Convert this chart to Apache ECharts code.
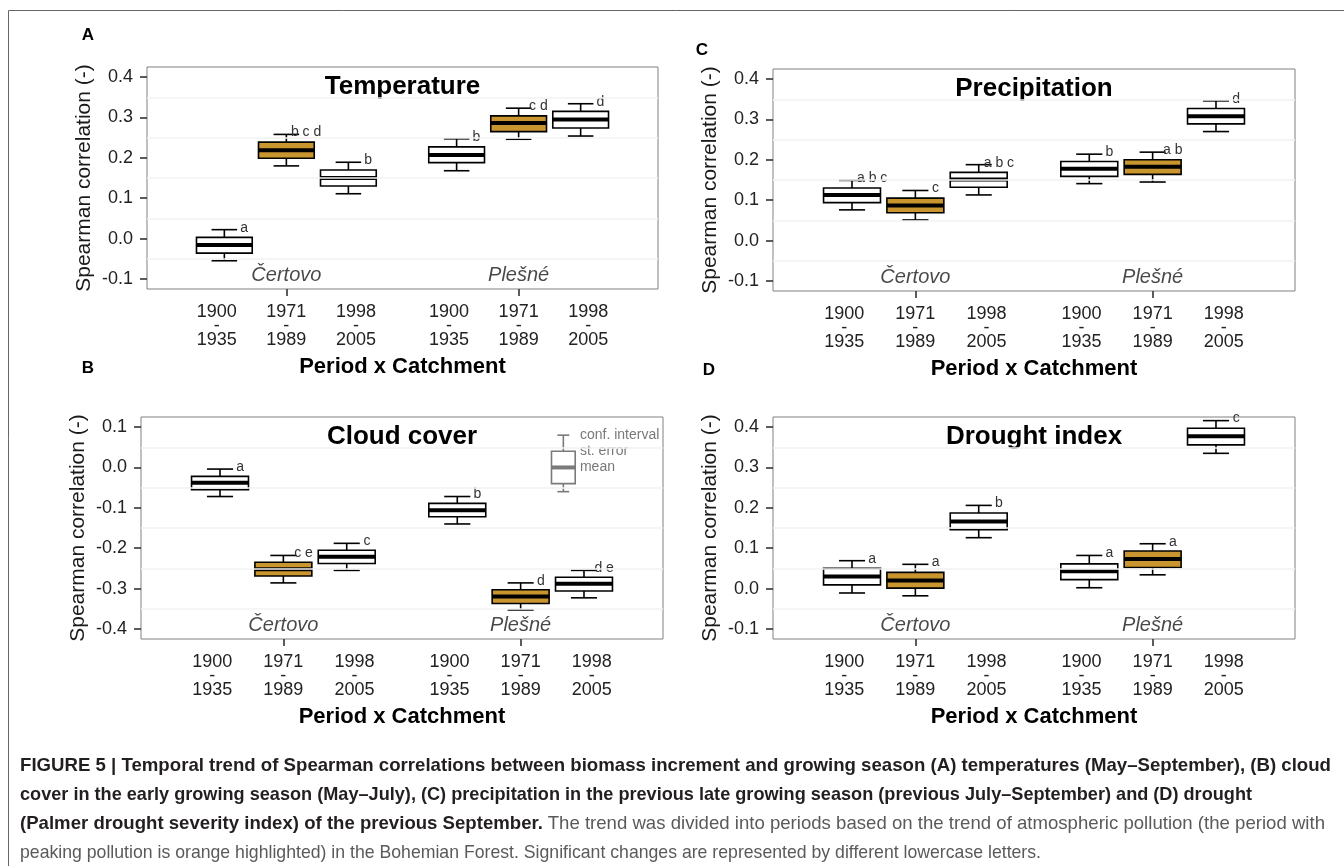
<!DOCTYPE html>
<html lang="en">
<head>
<meta charset="UTF-8">
<title>Figure 5 - Spearman correlations by period and catchment</title>
<script src="https://cdn.jsdelivr.net/npm/echarts@6.0.0/dist/echarts.min.js"></script>
<style>
  html, body { margin: 0; padding: 0; background: #fff; }
  #chart { position: absolute; left: 0; top: 0; width: 1344px; height: 866px; }
  #caption { position: absolute; left: 20px; top: 750px; font-family: 'Liberation Sans', Arial, sans-serif; font-size: 19px; }
  #caption .ln { white-space: nowrap; width: max-content; height: 29px; line-height: 29px; transform-origin: 0 50%; }
  #caption b { color: #231f20; }
  #caption span { color: #5a5a5a; }
</style>
</head>
<body>
<div id="chart"></div>
<div id="caption">
  <div class="ln"><b>FIGURE 5 | Temporal trend of Spearman correlations between biomass increment and growing season (A) temperatures (May–September), (B) cloud</b></div>
  <div class="ln"><b>cover in the early growing season (May–July), (C) precipitation in the previous late growing season (previous July–September) and (D) drought</b></div>
  <div class="ln"><b>(Palmer drought severity index) of the previous September.</b><span> The trend was divided into periods based on the trend of atmospheric pollution (the period with</span></div>
  <div class="ln"><span>peaking pollution is orange highlighted) in the Bohemian Forest. Significant changes are represented by different lowercase letters.</span></div>
</div>
<script>
// categories
const catchments = ['Čertovo', 'Plešné'];
const periods = ['1900\n-\n1935', '1971\n-\n1989', '1998\n-\n2005'];

// rows: [catchment, period, conf. low, se low, mean, se high, conf. high, letters]
const temperature = [
  [0, 0, -0.055, -0.036, -0.016, 0.003, 0.022, 'a'],
  [0, 1, 0.180, 0.199, 0.219, 0.239, 0.258, 'b c d'],
  [0, 2, 0.111, 0.130, 0.150, 0.170, 0.189, 'b'],
  [1, 0, 0.168, 0.188, 0.207, 0.227, 0.247, 'b'],
  [1, 1, 0.246, 0.265, 0.286, 0.304, 0.323, 'c d'],
  [1, 2, 0.254, 0.274, 0.295, 0.315, 0.334, 'd']
];
const cloudCover = [
  [0, 0, -0.072, -0.055, -0.038, -0.022, -0.004, 'a'],
  [0, 1, -0.286, -0.269, -0.252, -0.235, -0.218, 'c e'],
  [0, 2, -0.255, -0.238, -0.221, -0.205, -0.188, 'c'],
  [1, 0, -0.140, -0.122, -0.106, -0.089, -0.072, 'b'],
  [1, 1, -0.353, -0.337, -0.320, -0.303, -0.286, 'd'],
  [1, 2, -0.323, -0.306, -0.288, -0.272, -0.255, 'd e']
];
const precipitation = [
  [0, 0, 0.076, 0.094, 0.113, 0.130, 0.149, 'a b c'],
  [0, 1, 0.051, 0.069, 0.087, 0.105, 0.124, 'c'],
  [0, 2, 0.113, 0.132, 0.151, 0.169, 0.188, 'a b c'],
  [1, 0, 0.141, 0.159, 0.178, 0.196, 0.214, 'b'],
  [1, 1, 0.145, 0.164, 0.183, 0.200, 0.219, 'a b'],
  [1, 2, 0.270, 0.289, 0.308, 0.327, 0.346, 'd']
];
const drought = [
  [0, 0, -0.011, 0.009, 0.030, 0.050, 0.069, 'a'],
  [0, 1, -0.018, 0.001, 0.020, 0.040, 0.060, 'a'],
  [0, 2, 0.126, 0.146, 0.166, 0.187, 0.206, 'b'],
  [1, 0, 0.002, 0.022, 0.043, 0.061, 0.082, 'a'],
  [1, 1, 0.034, 0.052, 0.073, 0.093, 0.111, 'a'],
  [1, 2, 0.335, 0.356, 0.377, 0.397, 0.416, 'c']
];

// key box drawn inside panel B: [x, conf. low, se low, mean, se high, conf. high]
const keyBox = [2.18, -0.06, -0.04, 0.0, 0.04, 0.08];
const keyText = ['conf. interval', 'st. error', 'mean'];
const keyLevels = [0.08, 0.04, 0.0];

const ticksUp = [-0.1, 0, 0.1, 0.2, 0.3, 0.4];
const ticksDown = [-0.4, -0.3, -0.2, -0.1, 0, 0.1];
const minorUp = [-0.05, 0.05, 0.15, 0.25, 0.35];
const minorDown = [-0.35, -0.25, -0.15, -0.05, 0.05];

const FONT = "'Liberation Sans', Arial, sans-serif";
const ORANGE = '#c9952f';
const DODGE = 0.267, LABEL_DODGE = 0.3;
const BOX_HALF = 0.12, CAP_HALF = 0.055, LETTER_DX = 0.085;

const labelPos = [];
catchments.forEach((c, ci) => periods.forEach((p, pi) => labelPos.push(ci + 1 + (pi - 1) * LABEL_DODGE)));

const panels = [
  { tag: 'A', title: 'Temperature', rows: temperature, box: [147, 67, 511, 222], ext: [-0.125, 0.425], ticks: ticksUp, minor: minorUp, tagXY: [88, 35] },
  { tag: 'B', title: 'Cloud cover', rows: cloudCover, box: [141, 417, 522, 222], ext: [-0.425, 0.125], ticks: ticksDown, minor: minorDown, tagXY: [88, 368] },
  { tag: 'C', title: 'Precipitation', rows: precipitation, box: [773, 69, 522, 222], ext: [-0.125, 0.425], ticks: ticksUp, minor: minorUp, tagXY: [702, 50] },
  { tag: 'D', title: 'Drought index', rows: drought, box: [773, 417, 522, 222], ext: [-0.125, 0.425], ticks: ticksUp, minor: minorUp, tagXY: [709, 370] }
];

function boxRenderer(rows, color, boxHalf, capHalf, fillFor) {
  return function (params, api) {
    const x = api.value(0);
    const p0 = api.coord([x - boxHalf, api.value(4)]);
    const p1 = api.coord([x + boxHalf, api.value(2)]);
    const xc = api.coord([x, 0])[0];
    const yLo = api.coord([x, api.value(1)])[1];
    const yHi = api.coord([x, api.value(5)])[1];
    const yMean = api.coord([x, api.value(3)])[1];
    const cl = api.coord([x - capHalf, 0])[0], cr = api.coord([x + capHalf, 0])[0];
    const thin = { stroke: color, lineWidth: 1.6 };
    const kids = [
      { type: 'line', shape: { x1: xc, y1: yHi, x2: xc, y2: yLo }, style: thin },
      { type: 'line', shape: { x1: cl, y1: yHi, x2: cr, y2: yHi }, style: thin },
      { type: 'line', shape: { x1: cl, y1: yLo, x2: cr, y2: yLo }, style: thin },
      { type: 'rect', shape: { x: p0[0], y: p0[1], width: p1[0] - p0[0], height: p1[1] - p0[1] },
        style: { fill: fillFor(params.dataIndex), stroke: color, lineWidth: 1.6 } },
      { type: 'line', shape: { x1: p0[0], y1: yMean, x2: p1[0], y2: yMean }, style: { stroke: color, lineWidth: 4 } }
    ];
    if (rows) {
      kids.push({ type: 'text', x: api.coord([x + LETTER_DX, 0])[0], y: yHi - 2,
        style: { text: rows[params.dataIndex][7], align: 'center', verticalAlign: 'middle',
          fontSize: 14, fontFamily: FONT, fill: '#333' } });
    }
    return { type: 'group', children: kids };
  };
}

const option = {
  animation: false,
  grid: [], xAxis: [], yAxis: [], series: [],
  graphic: [
    { type: 'line', shape: { x1: 8.5, y1: 10.5, x2: 1344, y2: 10.5 }, style: { stroke: '#666', lineWidth: 1 } },
    { type: 'line', shape: { x1: 8.5, y1: 10.5, x2: 8.5, y2: 866 }, style: { stroke: '#666', lineWidth: 1 } }
  ]
};

panels.forEach((pn, i) => {
  const [left, top, width, height] = pn.box;
  option.grid.push({ left, top, width, height, show: true, borderColor: '#808080', borderWidth: 1, backgroundColor: '#fff' });
  option.xAxis.push({
    gridIndex: i, type: 'value', min: 0.4, max: 2.6,
    name: 'Period x Catchment', nameLocation: 'middle', nameGap: 67,
    nameTextStyle: { fontFamily: FONT, fontSize: 22, fontWeight: 'bold', color: '#000' },
    axisLine: { show: false, onZero: false },
    axisTick: { show: true, length: 7, customValues: [1, 2], lineStyle: { color: '#333', width: 1.6 } },
    axisLabel: {
      customValues: labelPos, margin: 16, fontFamily: FONT, fontSize: 18, color: '#222', lineHeight: 14,
      formatter: v => {
        let k = 0;
        labelPos.forEach((p, j) => { if (Math.abs(p - v) < Math.abs(labelPos[k] - v)) k = j; });
        return periods[k % 3];
      }
    },
    splitLine: { show: false }
  });
  option.yAxis.push({
    gridIndex: i, type: 'value', min: pn.ext[0], max: pn.ext[1],
    name: 'Spearman correlation (-)', nameLocation: 'middle', nameGap: 52,
    nameTextStyle: { fontFamily: FONT, fontSize: 21, color: '#1a1a1a' },
    axisLine: { show: false, onZero: false },
    axisTick: { show: true, length: 7, customValues: pn.ticks, lineStyle: { color: '#333', width: 1.6 } },
    axisLabel: { customValues: pn.ticks, margin: 14, fontFamily: FONT, fontSize: 18, color: '#222', formatter: v => v.toFixed(1) },
    splitLine: { show: false }
  });
  // faint minor grid lines
  option.series.push({
    type: 'line', xAxisIndex: i, yAxisIndex: i, data: [], silent: true,
    markLine: { silent: true, symbol: ['none', 'none'], label: { show: false },
      lineStyle: { color: '#f2f2f2', width: 1.5, type: 'solid' },
      data: pn.minor.map(v => ({ yAxis: v })) }
  });
  // catchment names
  option.series.push({
    type: 'scatter', xAxisIndex: i, yAxisIndex: i, symbolSize: 0, silent: true,
    data: catchments.map((c, ci) => ({ value: [ci + 1, pn.ext[0] + 0.033], name: c })),
    label: { show: true, position: 'inside', formatter: '{b}', fontFamily: FONT, fontSize: 20, fontStyle: 'italic', color: '#1a1a1a' }
  });
  // boxes
  option.series.push({
    type: 'custom', xAxisIndex: i, yAxisIndex: i, silent: true,
    renderItem: boxRenderer(pn.rows, '#000', BOX_HALF, CAP_HALF, idx => pn.rows[idx][1] === 1 ? ORANGE : '#fff'),
    encode: { x: 0, y: [1, 2, 3, 4, 5] },
    data: pn.rows.map(r => [r[0] + 1 + (r[1] - 1) * DODGE, r[2], r[3], r[4], r[5], r[6]])
  });
  option.graphic.push(
    { type: 'text', x: left + width / 2, y: top + 20, style: { text: pn.title, align: 'center', verticalAlign: 'middle', fontFamily: FONT, fontSize: 26, fontWeight: 'bold', fill: '#000' } },
    { type: 'text', x: pn.tagXY[0], y: pn.tagXY[1], style: { text: pn.tag, align: 'center', verticalAlign: 'middle', fontFamily: FONT, fontSize: 17, fontWeight: 'bold', fill: '#000' } }
  );
});

// key inside panel B
option.series.push({
  type: 'custom', xAxisIndex: 1, yAxisIndex: 1, silent: true,
  renderItem: boxRenderer(null, '#7a7a7a', 0.05, 0.025, () => '#fff'),
  encode: { x: 0, y: [1, 2, 3, 4, 5] },
  data: [keyBox]
});
option.series.push({
  type: 'scatter', xAxisIndex: 1, yAxisIndex: 1, symbolSize: 0, silent: true,
  data: keyText.map((t, k) => ({ value: [keyBox[0] + 0.07, keyLevels[k]], name: t })),
  label: { show: true, position: 'right', distance: 0, formatter: '{b}', fontFamily: FONT, fontSize: 14, color: '#555' }
});

const chart = echarts.init(document.getElementById('chart'), null, { renderer: 'canvas' });
chart.setOption(option);

// squeeze caption lines to the widths of the printed figure
const lineRight = [1331, 1252, 1325, 1041];
document.querySelectorAll('#caption .ln').forEach((el, k) => {
  const w = el.getBoundingClientRect().width;
  el.style.transform = 'scaleX(' + ((lineRight[k] - 20) / w) + ')';
});
</script>
</body>
</html>
